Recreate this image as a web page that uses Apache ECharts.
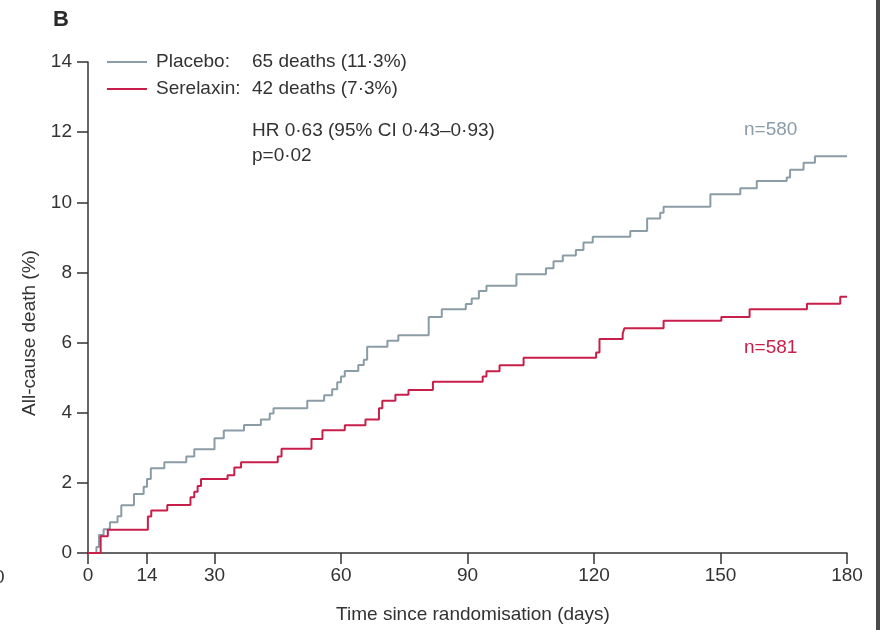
<!DOCTYPE html>
<html>
<head>
<meta charset="utf-8">
<script src="https://cdn.jsdelivr.net/npm/echarts@6/dist/echarts.min.js"></script>
<style>html,body{margin:0;padding:0;background:#fff;}#c{width:880px;height:630px;}</style>
</head>
<body>
<div id="c"></div>
<script>
// ---- data ----
const xTicks = [0, 14, 30, 60, 90, 120, 150, 180];
const yTicks = [0, 2, 4, 6, 8, 10, 12, 14];

const placeboDays = [0, 2.0, 2.6, 3.7, 5.2, 7.0, 7.9, 10.9, 13.2, 14.0, 14.9, 18.1, 23.3, 25.2, 30.0, 32.2, 37.0, 41.0, 43.1, 44.0, 52.0, 56.0, 57.9, 59.1, 60.0, 60.9, 64.1, 65.4, 66.2, 71.0, 73.6, 80.8, 83.9, 89.6, 91.0, 92.7, 94.5, 101.6, 108.6, 110.4, 112.6, 115.7, 117.5, 119.7, 128.6, 132.6, 135.7, 136.5, 147.6, 154.7, 158.6, 165.7, 166.5, 169.7, 172.4, 180];
const placeboPct = [0, 0.17, 0.51, 0.68, 0.88, 1.05, 1.36, 1.68, 1.89, 2.11, 2.42, 2.59, 2.75, 2.96, 3.27, 3.49, 3.65, 3.81, 3.98, 4.13, 4.34, 4.50, 4.67, 4.87, 5.03, 5.19, 5.36, 5.51, 5.88, 6.05, 6.21, 6.73, 6.95, 7.10, 7.26, 7.47, 7.62, 7.95, 8.12, 8.32, 8.48, 8.64, 8.85, 9.02, 9.18, 9.54, 9.70, 9.87, 10.23, 10.40, 10.61, 10.71, 10.93, 11.13, 11.31, 11.31];

const serelaxinDays = [0, 3.0, 4.7, 14.2, 15.0, 18.8, 24.3, 25.2, 26.0, 26.8, 33.1, 34.7, 36.3, 45.0, 45.9, 53.0, 55.6, 60.9, 65.8, 69.0, 69.8, 72.9, 76.0, 81.8, 93.6, 94.5, 97.6, 103.3, 120.5, 121.3, 126.8, 127.2, 136.5, 150.2, 156.9, 170.5, 178.4, 180];
const serelaxinPct = [0, 0.48, 0.66, 1.04, 1.21, 1.37, 1.59, 1.75, 1.91, 2.11, 2.22, 2.44, 2.59, 2.75, 2.97, 3.25, 3.50, 3.64, 3.81, 4.13, 4.34, 4.51, 4.65, 4.88, 5.03, 5.18, 5.35, 5.57, 5.72, 6.10, 6.25, 6.41, 6.62, 6.73, 6.95, 7.11, 7.31, 7.31];

const seriesNames = ['Placebo', 'Serelaxin'];
const legendCounts = ['65 deaths (11·3%)', '42 deaths (7·3%)'];
const hrText = 'HR 0·63 (95% CI 0·43–0·93)';
const pText = 'p=0·02';
const nLabels = ['n=580', 'n=581'];
const xTitle = 'Time since randomisation (days)';
const yTitle = 'All-cause death (%)';
const panelLabel = 'B';

// ---- chart ----
const GRAY = '#8a9ca6';
const RED = '#c81e4a';
const TXT = '#333333';
const FONT = '"Liberation Sans", Arial, sans-serif';

const zip = (a, b) => a.map((v, i) => [v, b[i]]);

const chart = echarts.init(document.getElementById('c'), null, {renderer: 'canvas'});

function txt(text, x, y, opts) {
  return {
    type: 'text',
    style: Object.assign({
      text: text, x: x, y: y,
      font: '19px ' + FONT,
      fill: TXT,
      textAlign: 'left',
      textVerticalAlign: 'middle'
    }, opts || {})
  };
}

chart.setOption({
  animation: false,
  backgroundColor: '#fff',
  grid: {left: 88, right: 33, top: 62, bottom: 77, containLabel: false},
  xAxis: {
    type: 'value', min: 0, max: 180,
    axisLine: {show: true, lineStyle: {color: '#333', width: 1.5}},
    axisTick: {show: true, length: 11, lineStyle: {color: '#333', width: 1.5}, customValues: xTicks},
    axisLabel: {show: true, margin: 13, color: TXT, fontSize: 19, fontFamily: FONT, customValues: xTicks},
    splitLine: {show: false}
  },
  yAxis: {
    type: 'value', min: 0, max: 14, interval: 2,
    axisLine: {show: true, lineStyle: {color: '#333', width: 1.5}},
    axisTick: {show: true, length: 11, lineStyle: {color: '#333', width: 1.5}},
    axisLabel: {show: true, margin: 16, color: TXT, fontSize: 19, fontFamily: FONT},
    splitLine: {show: false}
  },
  series: [
    {
      name: seriesNames[0], type: 'line', step: 'end', symbol: 'none',
      lineStyle: {color: GRAY, width: 2}, data: zip(placeboDays, placeboPct), z: 3
    },
    {
      name: seriesNames[1], type: 'line', step: 'end', symbol: 'none',
      lineStyle: {color: RED, width: 2}, data: zip(serelaxinDays, serelaxinPct), z: 4
    }
  ],
  graphic: [
    txt(panelLabel, 53, 20, {font: 'bold 22px ' + FONT, fill: '#2a2a2a'}),
    {type: 'line', shape: {x1: 107, y1: 62, x2: 147, y2: 62}, style: {stroke: GRAY, lineWidth: 2}},
    {type: 'line', shape: {x1: 107, y1: 89, x2: 147, y2: 89}, style: {stroke: RED, lineWidth: 2}},
    txt(seriesNames[0] + ':', 156, 62),
    txt(legendCounts[0], 252, 62),
    txt(seriesNames[1] + ':', 156, 89),
    txt(legendCounts[1], 252, 89),
    txt(hrText, 252, 131),
    txt(pText, 252, 156),
    txt(nLabels[0], 744, 130, {fill: GRAY}),
    txt(nLabels[1], 744, 348, {fill: RED}),
    txt(xTitle, 473, 615, {textAlign: 'center'}),
    {
      type: 'text', x: 30, y: 333, rotation: Math.PI / 2,
      style: {text: yTitle, x: 0, y: 0, font: '19px ' + FONT, fill: TXT, textAlign: 'center', textVerticalAlign: 'middle'}
    },
    txt('0', -6, 578, {fill: TXT}),
    {type: 'rect', shape: {x: 876, y: 0, width: 4, height: 630}, style: {fill: '#4a4a4a'}}
  ]
});
</script>
</body>
</html>
